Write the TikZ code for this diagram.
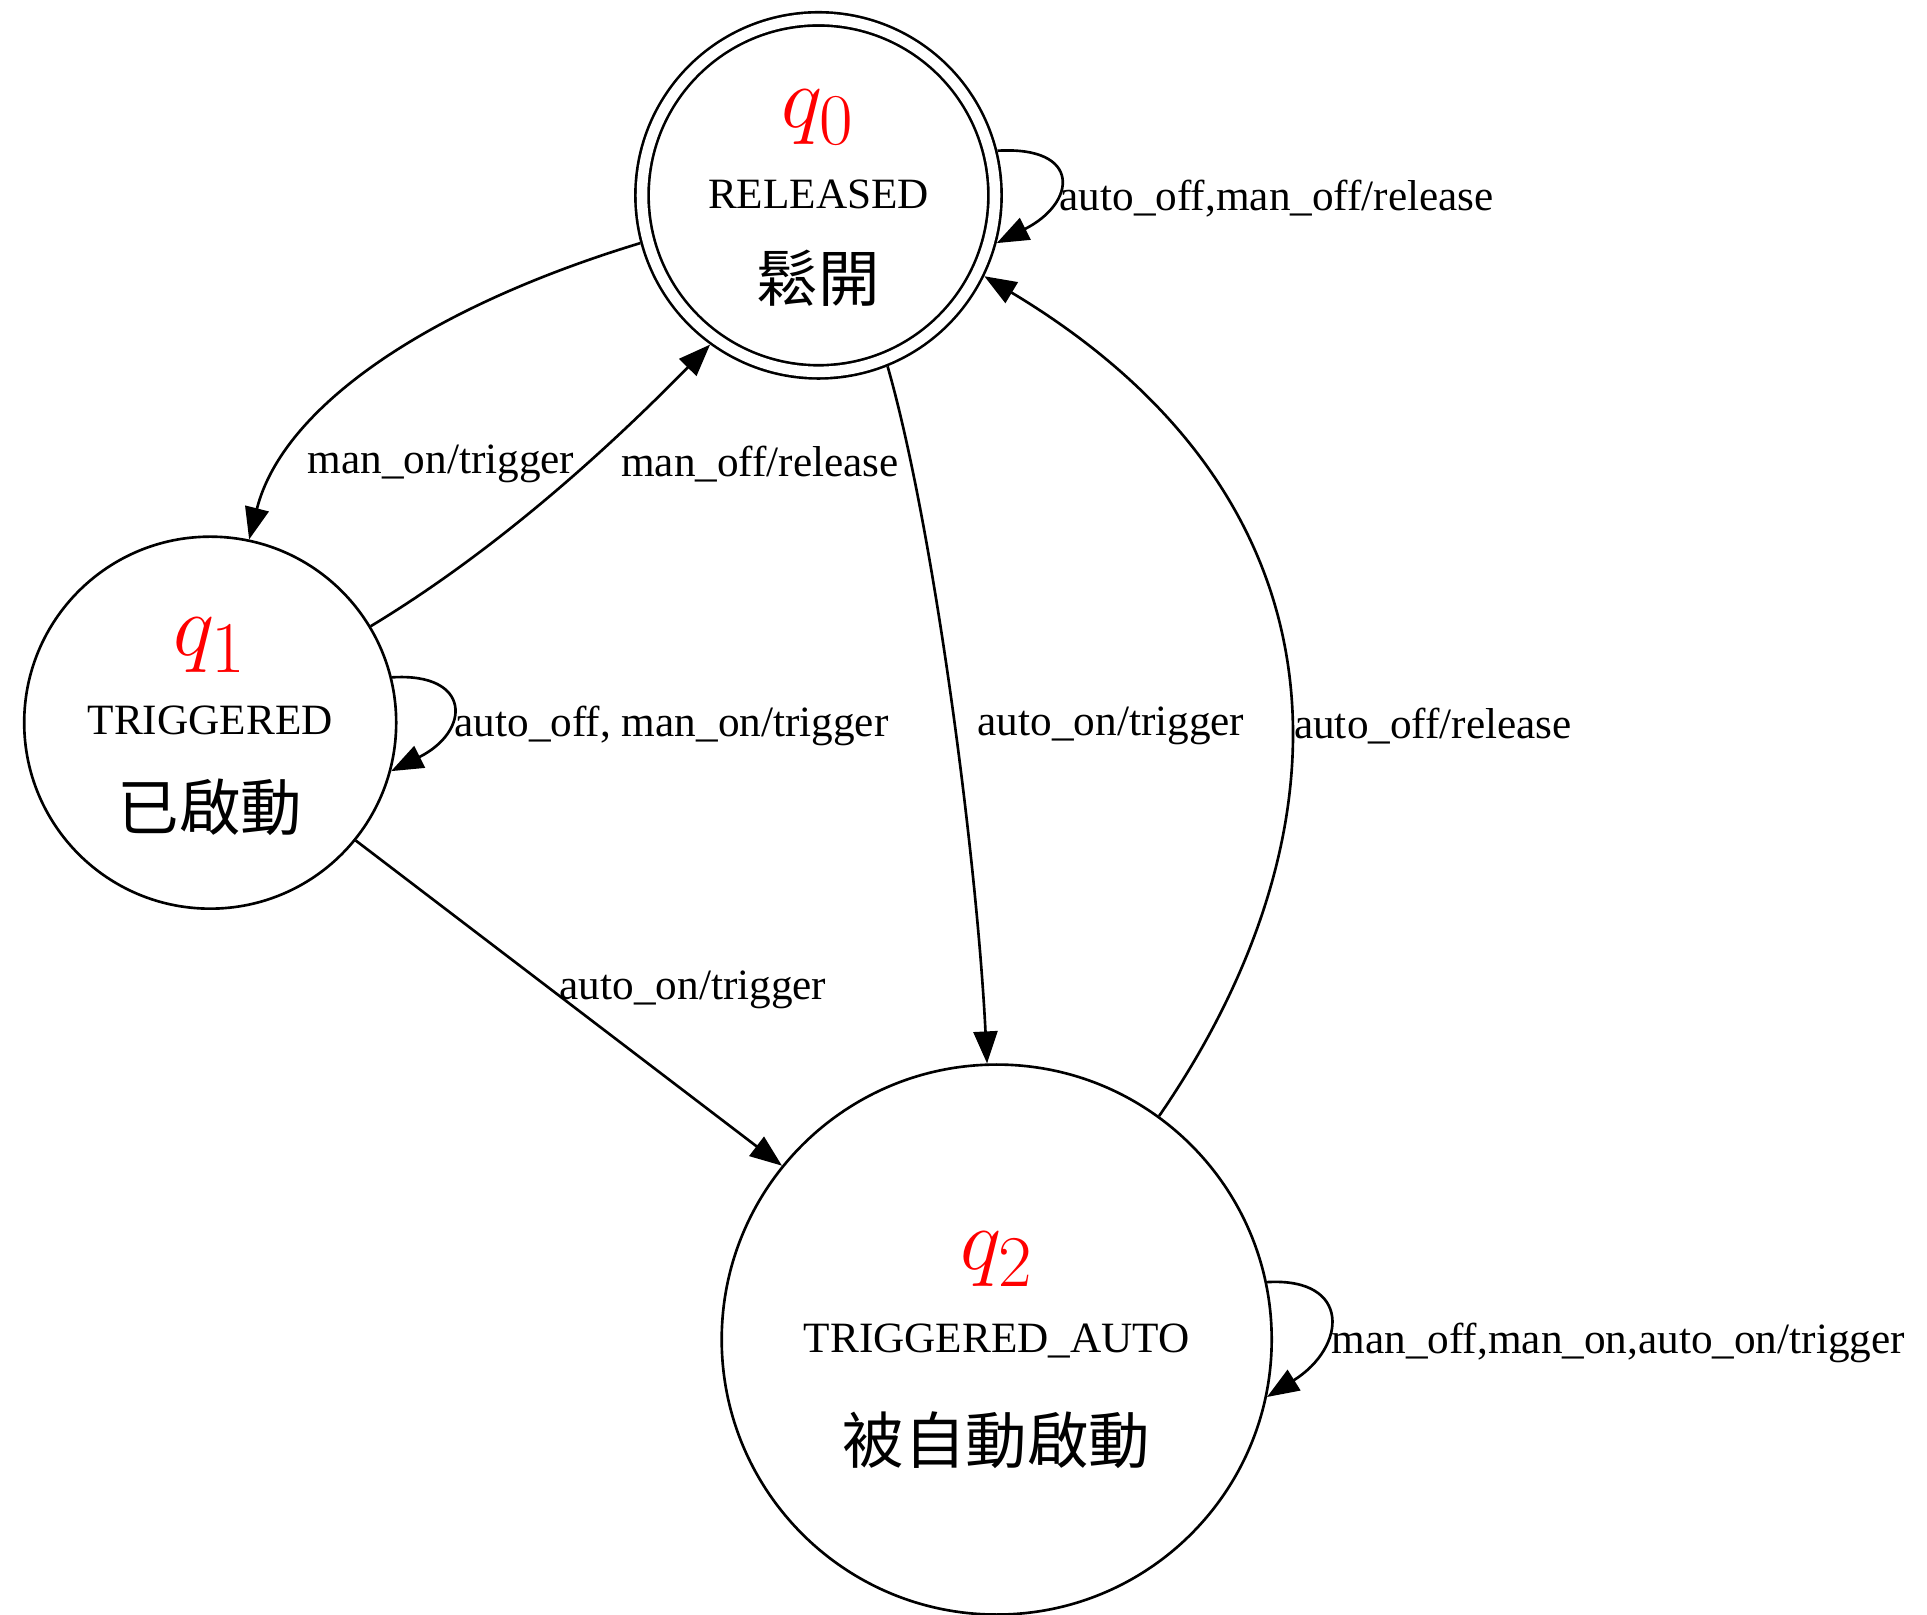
\documentclass[tikz,border=0pt]{standalone}
\usepackage{fontspec}
\setmainfont{Liberation Serif}
\newfontfamily\cjk{Noto Sans CJK TC}
\usetikzlibrary{arrows.meta}

\begin{document}
\begin{tikzpicture}[state/.style={circle, draw=black, line width=0.75pt, inner sep=0pt},
  qname/.style={text=red, anchor=base, inner sep=0pt, font=\fontsize{30.5}{32}\selectfont},
  ename/.style={anchor=base, inner sep=0pt, font=\fontsize{12.3}{14}\selectfont},
  cname/.style={anchor=base, inner sep=0pt, font=\fontsize{17.5}{20}\selectfont\cjk},
  elabel/.style={inner sep=0pt, font=\fontsize{12.3}{14}\selectfont},
  trans/.style={draw=black, line width=0.75pt, -{Triangle[length=3.2mm, width=2.4mm]}}]
			\useasboundingbox (0,0) rectangle (19.27,16.15);

			\node[state, minimum size=3.53cm, double, double distance=3pt, outer sep=0.08cm] (q0) at (8.185,14.196){};
			\node[state, minimum size=3.72cm] (q1) at (2.102,8.923){};
			\node[state, minimum size=5.5cm] (q2) at (9.967,2.754){};

			\node[qname] (q0n) at ([yshift=0.68cm]q0.center) {$q_0$};
			\node[ename] (q0e) at ([yshift=-0.13cm]q0.center) {RELEASED};
			\node[cname] (q0c) at ([yshift=-1.06cm]q0.center) {鬆開};

			\node[qname] (q1n) at ([yshift=0.67cm]q1.center) {$q_1$};
			\node[ename] (q1e) at ([yshift=-0.12cm]q1.center) {TRIGGERED};
			\node[cname] (q1c) at ([yshift=-1.08cm]q1.center) {已啟動};

			\node[qname] (q2n) at ([yshift=0.70cm]q2.center) {$q_2$};
			\node[ename] (q2e) at ([yshift=-0.13cm]q2.center) {TRIGGERED\_AUTO};
			\node[cname] (q2c) at ([yshift=-1.24cm]q2.center) {被自動啟動};

			\node[elabel] (l1) at (4.41,11.51) {man\_on/trigger};
			\node[elabel] (l2) at (7.60,11.51) {man\_off/release};
			\node[elabel] (l3) at (11.11,8.89) {auto\_on/trigger};
			\node[elabel] (l4) at (14.33,8.89) {auto\_off/release};
			\node[elabel] (l5) at (6.93,6.25) {auto\_on/trigger};
			\node[elabel, anchor=west] (l6) at (10.59,14.16) {auto\_off,man\_off/release};
			\node[elabel, anchor=west] (l7) at (4.54,8.89) {auto\_off, man\_on/trigger};
			\node[elabel, anchor=west] (l8) at (13.31,2.72) {man\_off,man\_on,auto\_on/trigger};

			\draw[trans] (q0.195) .. controls (4.30,13.08) and (2.83,12.09) .. (q1.78);
			\draw[trans] (q1.31) .. controls (4.92,10.62) and (6.02,11.60) .. (q0.234);
			\draw[trans] (q0.292) .. controls (9.34,10.87) and (9.77,7.55) .. (q2.92);
			\draw[trans] (q2.54) .. controls (13.52,7.79) and (13.64,11.11) .. (q0.334);
			\draw[trans] (q1.-39) -- (q2.141);
			\draw[trans] (q0.14) .. controls +(0.85,0.05) and +(0.8,0.4) .. (q0.-15);
			\draw[trans] (q1.14) .. controls +(0.8,0.05) and +(0.8,0.4) .. (q1.-15);
			\draw[trans] (q2.12) .. controls +(0.85,0.05) and +(0.8,0.5) .. (q2.-12);
\end{tikzpicture}
\end{document}
